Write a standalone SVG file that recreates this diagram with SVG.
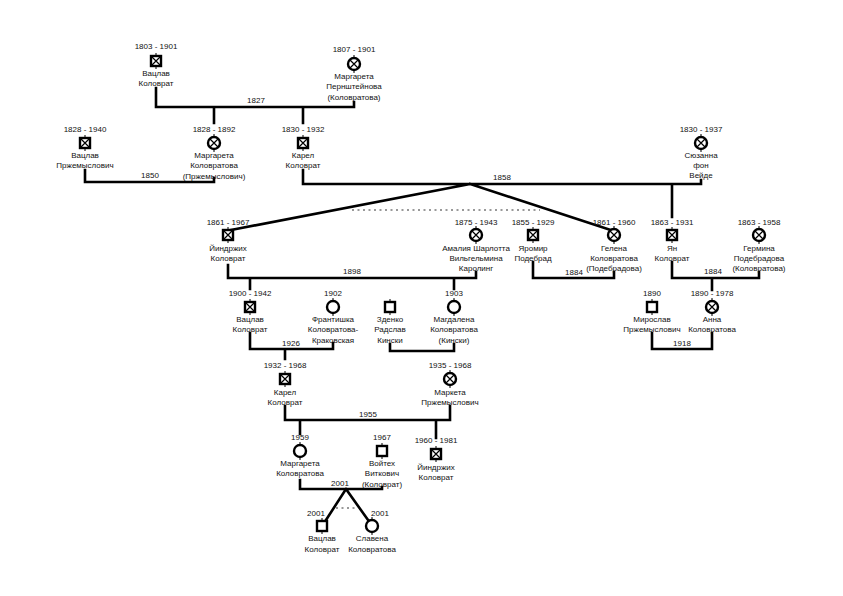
<svg xmlns="http://www.w3.org/2000/svg" xmlns:xlink="http://www.w3.org/1999/xlink" width="843" height="596" viewBox="0 0 843 596">
<style>
text{font-family:"Liberation Sans",Arial,sans-serif;font-size:8px;fill:#111;text-anchor:middle}
.c{fill:none;stroke:#000;stroke-width:2.6;stroke-linecap:square}
.d{fill:none;stroke:#999;stroke-width:2;stroke-dasharray:2,3.5}
.s{fill:#fff;stroke:#000;stroke-width:2.4}
.x{stroke:#000;stroke-width:1.2}
.t{stroke:#000;stroke-width:1}
</style>
<defs>
<g id="m"><line class="t" x1="0" y1="-5" x2="0" y2="-8"/><line class="t" x1="0" y1="5" x2="0" y2="8"/><rect class="s" x="-5" y="-5" width="10" height="10"/></g>
<g id="md"><use href="#m"/><path class="x" d="M-4,-4L4,4M4,-4L-4,4"/></g>
<g id="f"><line class="t" x1="0" y1="-6" x2="0" y2="-9"/><line class="t" x1="0" y1="6" x2="0" y2="9"/><circle class="s" r="6"/></g>
<g id="fd"><use href="#f"/><path class="x" d="M-4,-4L4,4M4,-4L-4,4"/></g>
</defs>
<rect width="843" height="596" fill="#fff"/>
<g id="connectors">
<path class="c" d="M156,88V107H354V102M214,107V123M303,107V123"/>
<path class="c" d="M85,170V182H214V178"/>
<path class="c" d="M303,170V184H701V180M672,184V217M470,184L231,230M470,184L611,230"/>
<path class="d" d="M352,210H540"/>
<path class="c" d="M228,265V278H476V272M250,278V289M454,278V289"/>
<path class="c" d="M533,262V278H614V272"/>
<path class="c" d="M672,262V278H759V272M712,278V290"/>
<path class="c" d="M250,333V349H333V343M285,349V359"/>
<path class="c" d="M390,344V351H454V344"/>
<path class="c" d="M652,333V349H712V333"/>
<path class="c" d="M285,406V420H450V406M300,420V434M436,420V438"/>
<path class="c" d="M300,480V489H382V487M346,489L326,520M346,489L368,520"/>
<path class="d" d="M336,508H358"/>
<text x="256" y="103">1827</text>
<text x="150" y="178">1850</text>
<text x="502" y="180">1858</text>
<text x="352" y="274">1898</text>
<text x="574" y="275">1884</text>
<text x="713" y="274">1884</text>
<text x="291" y="346">1926</text>
<text x="682" y="346">1918</text>
<text x="368" y="417">1955</text>
<text x="340" y="486">2001</text>
</g>
<g id="n1"><text x="156" y="49">1803 - 1901</text><use href="#md" x="156" y="61"/><text x="156" y="76">Вацлав</text><text x="156" y="86">Коловрат</text></g>
<g id="n2"><text x="354" y="52">1807 - 1901</text><use href="#fd" x="354" y="64"/><text x="354" y="79">Маргарета</text><text x="354" y="89">Пернштейнова</text><text x="354" y="100">(Коловратова)</text></g>
<g id="n3"><text x="85" y="132">1828 - 1940</text><use href="#md" x="85" y="143"/><text x="85" y="158">Вацлав</text><text x="85" y="168">Пржемыслович</text></g>
<g id="n4"><text x="214" y="132">1828 - 1892</text><use href="#fd" x="214" y="143"/><text x="214" y="158">Маргарета</text><text x="214" y="168">Коловратова</text><text x="214" y="179">(Пржемыслович)</text></g>
<g id="n5"><text x="303" y="132">1830 - 1932</text><use href="#md" x="303" y="143"/><text x="303" y="158">Карел</text><text x="303" y="168">Коловрат</text></g>
<g id="n6"><text x="701" y="132">1830 - 1937</text><use href="#fd" x="701" y="143"/><text x="701" y="158">Сюзанна</text><text x="701" y="168">фон</text><text x="701" y="178">Вейде</text></g>
<g id="n7"><text x="228" y="225">1861 - 1967</text><use href="#md" x="228" y="235"/><text x="228" y="251">Йиндржих</text><text x="228" y="261">Коловрат</text></g>
<g id="n8"><text x="476" y="225">1875 - 1943</text><use href="#fd" x="476" y="235"/><text x="476" y="251">Амалия Шарлотта</text><text x="476" y="261">Вильгельмина</text><text x="476" y="271">Каролинг</text></g>
<g id="n9"><text x="533" y="225">1855 - 1929</text><use href="#md" x="533" y="235"/><text x="533" y="251">Яромир</text><text x="533" y="261">Подебрад</text></g>
<g id="n10"><text x="614" y="225">1861 - 1960</text><use href="#fd" x="614" y="235"/><text x="614" y="251">Гелена</text><text x="614" y="261">Коловратова</text><text x="614" y="271">(Подебрадова)</text></g>
<g id="n11"><text x="672" y="225">1863 - 1931</text><use href="#md" x="672" y="235"/><text x="672" y="251">Ян</text><text x="672" y="261">Коловрат</text></g>
<g id="n12"><text x="759" y="225">1863 - 1958</text><use href="#fd" x="759" y="235"/><text x="759" y="251">Гермина</text><text x="759" y="261">Подебрадова</text><text x="759" y="271">(Коловратова)</text></g>
<g id="n13"><text x="250" y="296">1900 - 1942</text><use href="#md" x="250" y="307"/><text x="250" y="322">Вацлав</text><text x="250" y="332">Коловрат</text></g>
<g id="n14"><text x="333" y="296">1902</text><use href="#f" x="333" y="307"/><text x="333" y="322">Франтишка</text><text x="333" y="332">Коловратова-</text><text x="333" y="343">Краковская</text></g>
<g id="n15"><use href="#m" x="390" y="307"/><text x="390" y="322">Зденко</text><text x="390" y="332">Радслав</text><text x="390" y="343">Кински</text></g>
<g id="n16"><text x="454" y="296">1903</text><use href="#f" x="454" y="307"/><text x="454" y="322">Магдалена</text><text x="454" y="332">Коловратова</text><text x="454" y="343">(Кински)</text></g>
<g id="n17"><text x="652" y="296">1890</text><use href="#m" x="652" y="307"/><text x="652" y="322">Мирослав</text><text x="652" y="332">Пржемыслович</text></g>
<g id="n18"><text x="712" y="296">1890 - 1978</text><use href="#fd" x="712" y="307"/><text x="712" y="322">Анна</text><text x="712" y="332">Коловратова</text></g>
<g id="n19"><text x="285" y="368">1932 - 1968</text><use href="#md" x="285" y="379"/><text x="285" y="395">Карел</text><text x="285" y="405">Коловрат</text></g>
<g id="n20"><text x="450" y="368">1935 - 1968</text><use href="#fd" x="450" y="379"/><text x="450" y="395">Маркета</text><text x="450" y="405">Пржемыслович</text></g>
<g id="n21"><text x="300" y="440">1959</text><use href="#f" x="300" y="451"/><text x="300" y="466">Маргарета</text><text x="300" y="476">Коловратова</text></g>
<g id="n22"><text x="382" y="440">1967</text><use href="#m" x="382" y="451"/><text x="382" y="466">Войтех</text><text x="382" y="476">Виткович</text><text x="382" y="487">(Коловрат)</text></g>
<g id="n23"><text x="436" y="443">1960 - 1981</text><use href="#md" x="436" y="454"/><text x="436" y="470">Йиндржих</text><text x="436" y="480">Коловрат</text></g>
<g id="n24"><text x="316" y="516">2001</text><use href="#m" x="322" y="526"/><text x="322" y="541">Вацлав</text><text x="322" y="552">Коловрат</text></g>
<g id="n25"><text x="380" y="516">2001</text><use href="#f" x="372" y="526"/><text x="372" y="541">Славена</text><text x="372" y="552">Коловратова</text></g>
</svg>
